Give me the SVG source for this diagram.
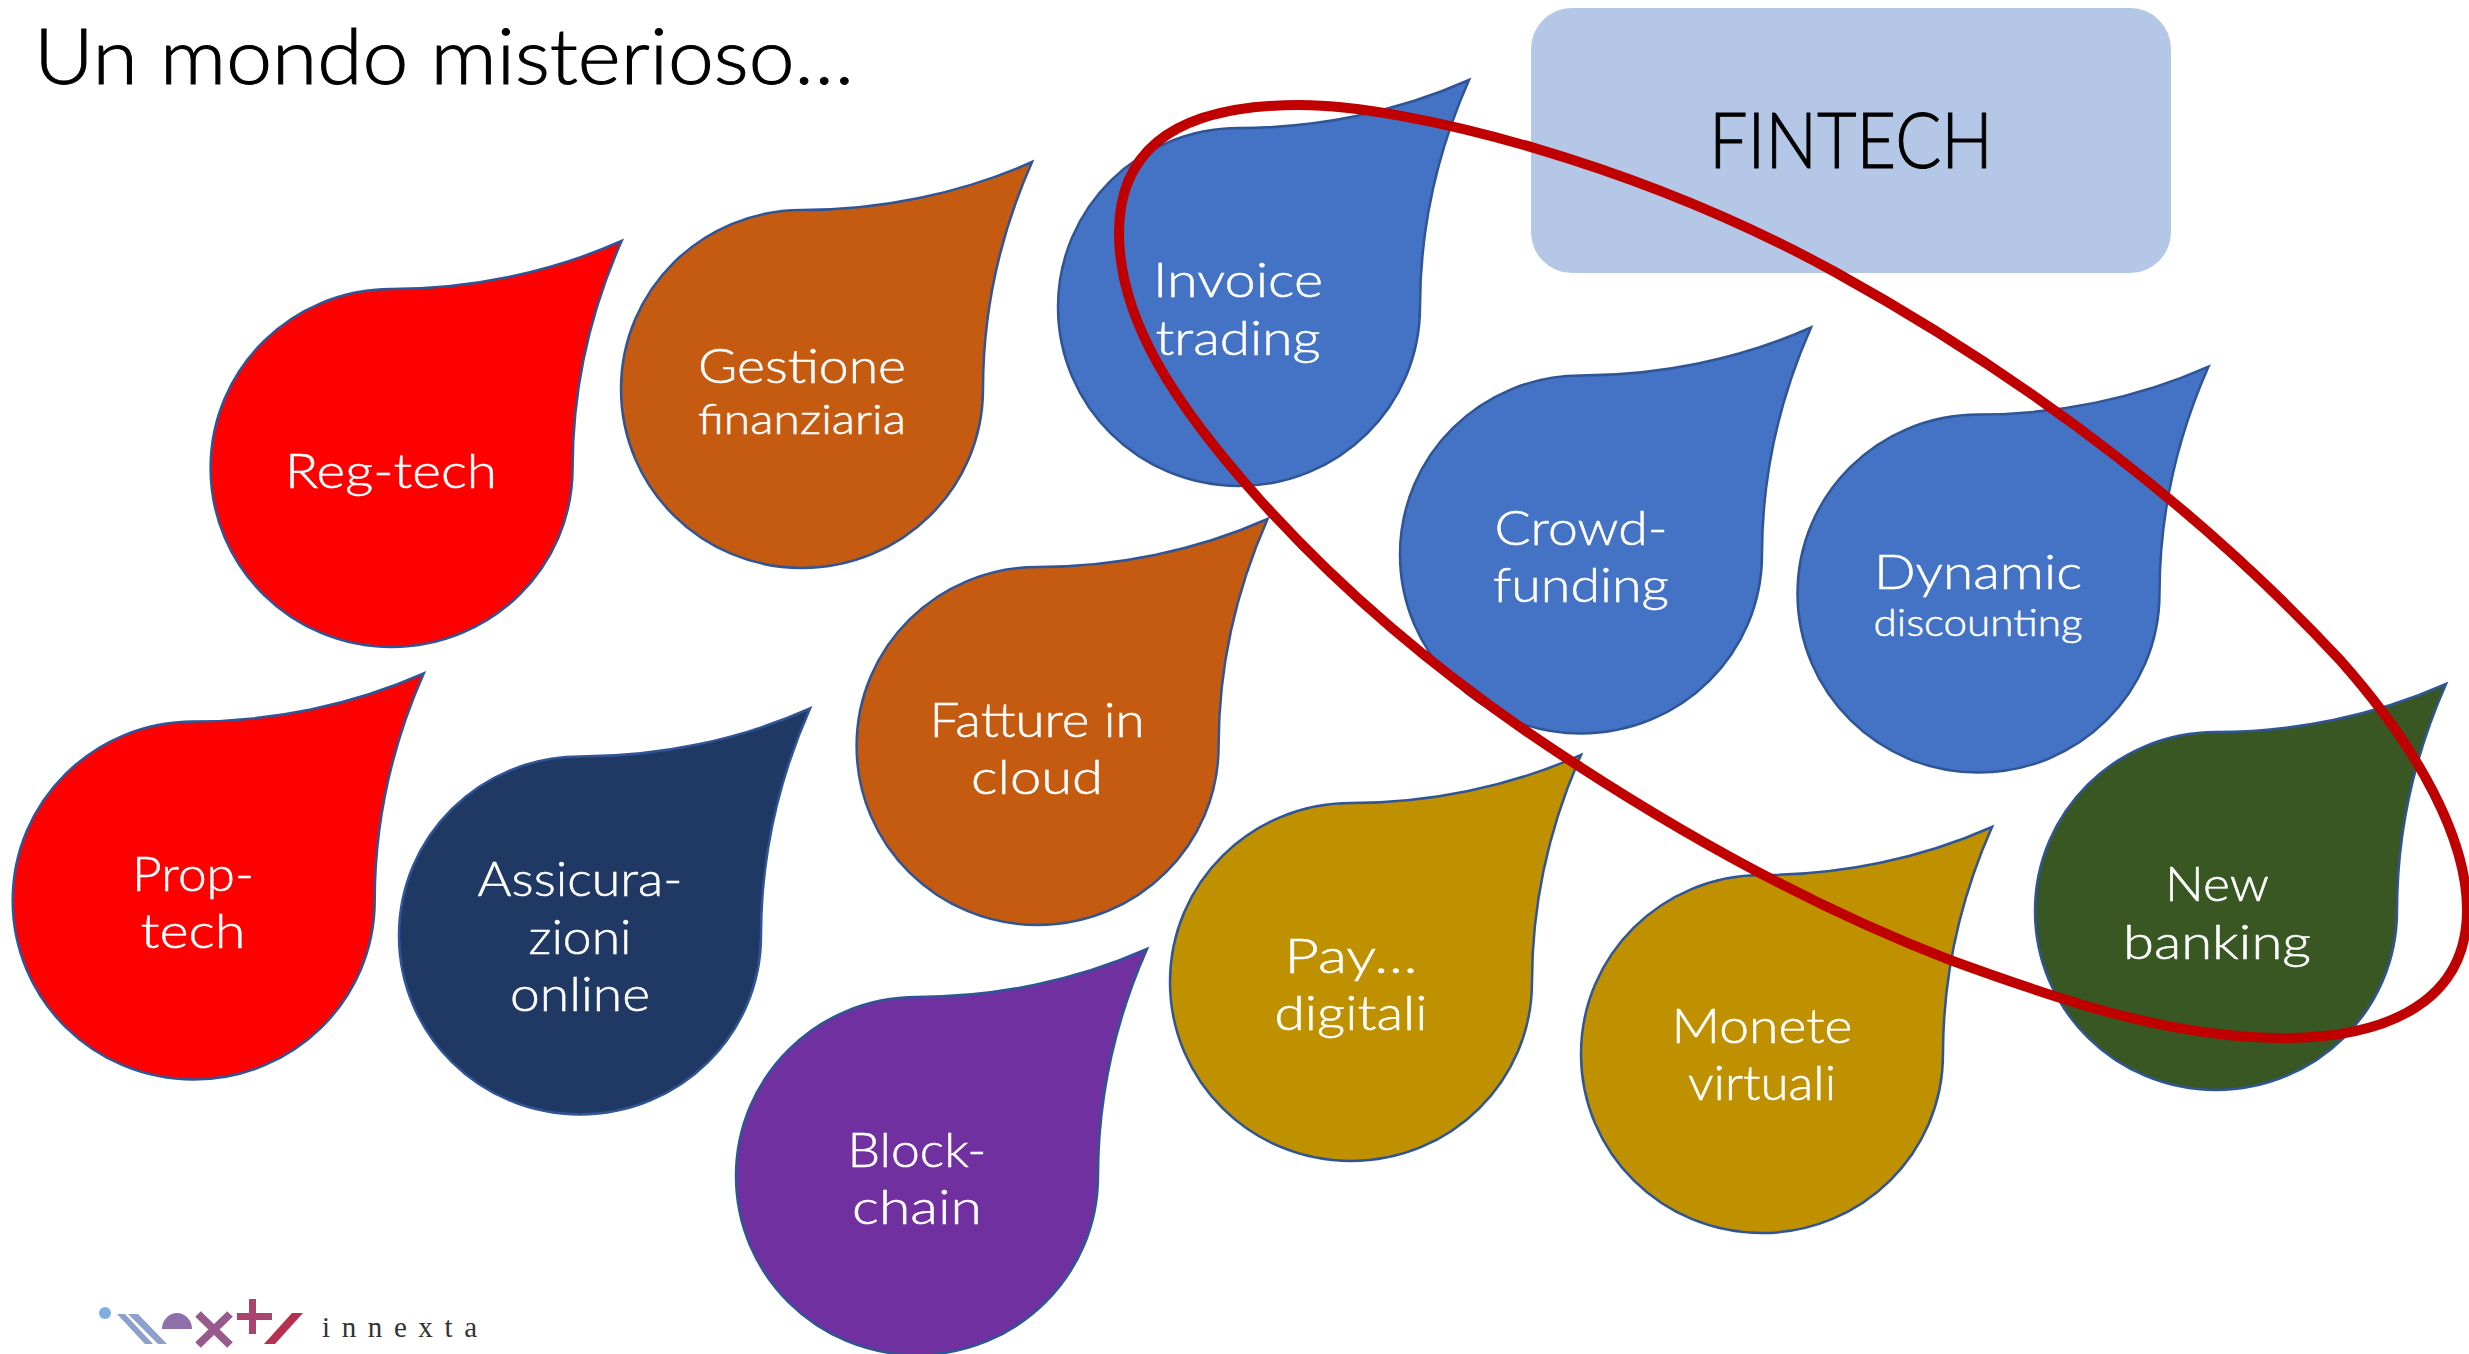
<svg xmlns="http://www.w3.org/2000/svg" width="2469" height="1354" viewBox="0 0 2469 1354">
<style>
text{font-family:"Lato","Liberation Sans",sans-serif}
.d{stroke:#2f5597;stroke-width:2.5}
.t{fill:#fff;stroke:#fff;stroke-width:.5;font-size:48px;font-weight:300;text-anchor:middle}
.s{font-size:41px}
.x{font-size:38px}
.h{fill:#000;stroke:#000;stroke-width:1;font-size:76px;font-weight:300}
.red{fill:#f00}.brown{fill:#c55a11}.blue{fill:#4472c4}.navy{fill:#203864}.purple{fill:#7030a0}.gold{fill:#bf9000}.green{fill:#385723}
</style>
<defs><path id="drop" d="M-181 0C-181-99-100-179 0-179C78-179 158-195 230-227C196-150 181-75 181 0C181 99 100 179 0 179C-100 179-181 99-181 0Z"/></defs>
<rect width="2469" height="1354" fill="#fff"/>
<text class="h" x="34" y="84" textLength="820" lengthAdjust="spacingAndGlyphs">Un mondo misterioso…</text>
<g id="fintech"><rect x="1531" y="8" width="640" height="265" rx="41" fill="#b4c7e7"/><text class="h" x="1851" y="168" text-anchor="middle" textLength="284" lengthAdjust="spacingAndGlyphs">FINTECH</text></g>
<g id="regtech"><use href="#drop" x="391.6" y="468" class="d red"/><text class="t" x="391" y="488" textLength="212" lengthAdjust="spacingAndGlyphs">Reg-tech</text></g>
<g id="gestione"><use href="#drop" x="802" y="389" class="d brown"/><text class="t" x="802" y="383" textLength="208" lengthAdjust="spacingAndGlyphs">Gestione</text><text class="t s" x="802" y="434" textLength="208" lengthAdjust="spacingAndGlyphs">finanziaria</text></g>
<g id="invoice"><use href="#drop" x="1239" y="307" class="d blue"/><text class="t" x="1238" y="297" textLength="170" lengthAdjust="spacingAndGlyphs">Invoice</text><text class="t" x="1238" y="355" textLength="165" lengthAdjust="spacingAndGlyphs">trading</text></g>
<g id="crowd"><use href="#drop" x="1581" y="554.500" class="d blue"/><text class="t" x="1581" y="545" textLength="173" lengthAdjust="spacingAndGlyphs">Crowd-</text><text class="t" x="1581" y="602" textLength="176" lengthAdjust="spacingAndGlyphs">funding</text></g>
<g id="dynamic"><use href="#drop" x="1978.500" y="593.600" class="d blue"/><text class="t" x="1978" y="589" textLength="208" lengthAdjust="spacingAndGlyphs">Dynamic</text><text class="t x" x="1978" y="636" textLength="209" lengthAdjust="spacingAndGlyphs">discounting</text></g>
<g id="newbanking"><use href="#drop" x="2216" y="911" class="d green"/><text class="t" x="2217" y="901" textLength="104" lengthAdjust="spacingAndGlyphs">New</text><text class="t" x="2217" y="959" textLength="188" lengthAdjust="spacingAndGlyphs">banking</text></g>
<g id="fatture"><use href="#drop" x="1037.600" y="746" class="d brown"/><text class="t" x="1037" y="737" textLength="215" lengthAdjust="spacingAndGlyphs">Fatture in</text><text class="t" x="1037" y="794" textLength="132" lengthAdjust="spacingAndGlyphs">cloud</text></g>
<g id="prop"><use href="#drop" x="193.700" y="900.500" class="d red"/><text class="t" x="193" y="891" textLength="122" lengthAdjust="spacingAndGlyphs">Prop-</text><text class="t" x="193" y="948" textLength="105" lengthAdjust="spacingAndGlyphs">tech</text></g>
<g id="assicura"><use href="#drop" x="580" y="935.500" class="d navy"/><text class="t" x="580" y="896" textLength="205" lengthAdjust="spacingAndGlyphs">Assicura-</text><text class="t" x="580" y="954" textLength="103" lengthAdjust="spacingAndGlyphs">zioni</text><text class="t" x="580" y="1011" textLength="140" lengthAdjust="spacingAndGlyphs">online</text></g>
<g id="block"><use href="#drop" x="917" y="1176" class="d purple"/><text class="t" x="917" y="1167" textLength="139" lengthAdjust="spacingAndGlyphs">Block-</text><text class="t" x="917" y="1224" textLength="130" lengthAdjust="spacingAndGlyphs">chain</text></g>
<g id="pay"><use href="#drop" x="1351" y="982" class="d gold"/><text class="t" x="1351" y="973" textLength="133" lengthAdjust="spacingAndGlyphs">Pay…</text><text class="t" x="1351" y="1030" textLength="153" lengthAdjust="spacingAndGlyphs">digitali</text></g>
<g id="monete"><use href="#drop" x="1762" y="1054" class="d gold"/><text class="t" x="1762" y="1043" textLength="181" lengthAdjust="spacingAndGlyphs">Monete</text><text class="t" x="1762" y="1100" textLength="148" lengthAdjust="spacingAndGlyphs">virtuali</text></g>
<g id="connectors"><path fill="none" stroke="#c00000" stroke-width="10" d="M1119 233C1119 140 1190 105 1299 105C1410 105 1640 165 1835 272C2040 385 2210 520 2340 660C2420 750 2467 840 2467 910C2467 1000 2390 1038 2283 1038C2170 1038 2060 1000 1950 960C1825 912 1700 845 1577 765C1460 690 1350 600 1260 500C1175 405 1119 320 1119 233Z"/></g>
<g id="logo">
<circle cx="105" cy="1313" r="6" fill="#7db0e0"/>
<path d="M117 1314h8l28 30h-8zM128 1314h10l29 30h-9z" fill="#8d9fcb"/>
<path d="M162 1329a15 16 0 0 1 30 0z" fill="#9070a8"/>
<path d="M198 1314l32 31M230 1314l-32 31" stroke="#985a8c" stroke-width="8" fill="none"/>
<path d="M249 1299h7v35h-7zM237 1313h35v7h-35z" fill="#a8446f"/>
<path d="M292 1313h11l-28 31h-11z" fill="#b8304f"/>
<text x="322" y="1337" font-size="29" style="font-family:'Liberation Serif',serif" fill="#333" textLength="155">innexta</text>
</g>
</svg>
